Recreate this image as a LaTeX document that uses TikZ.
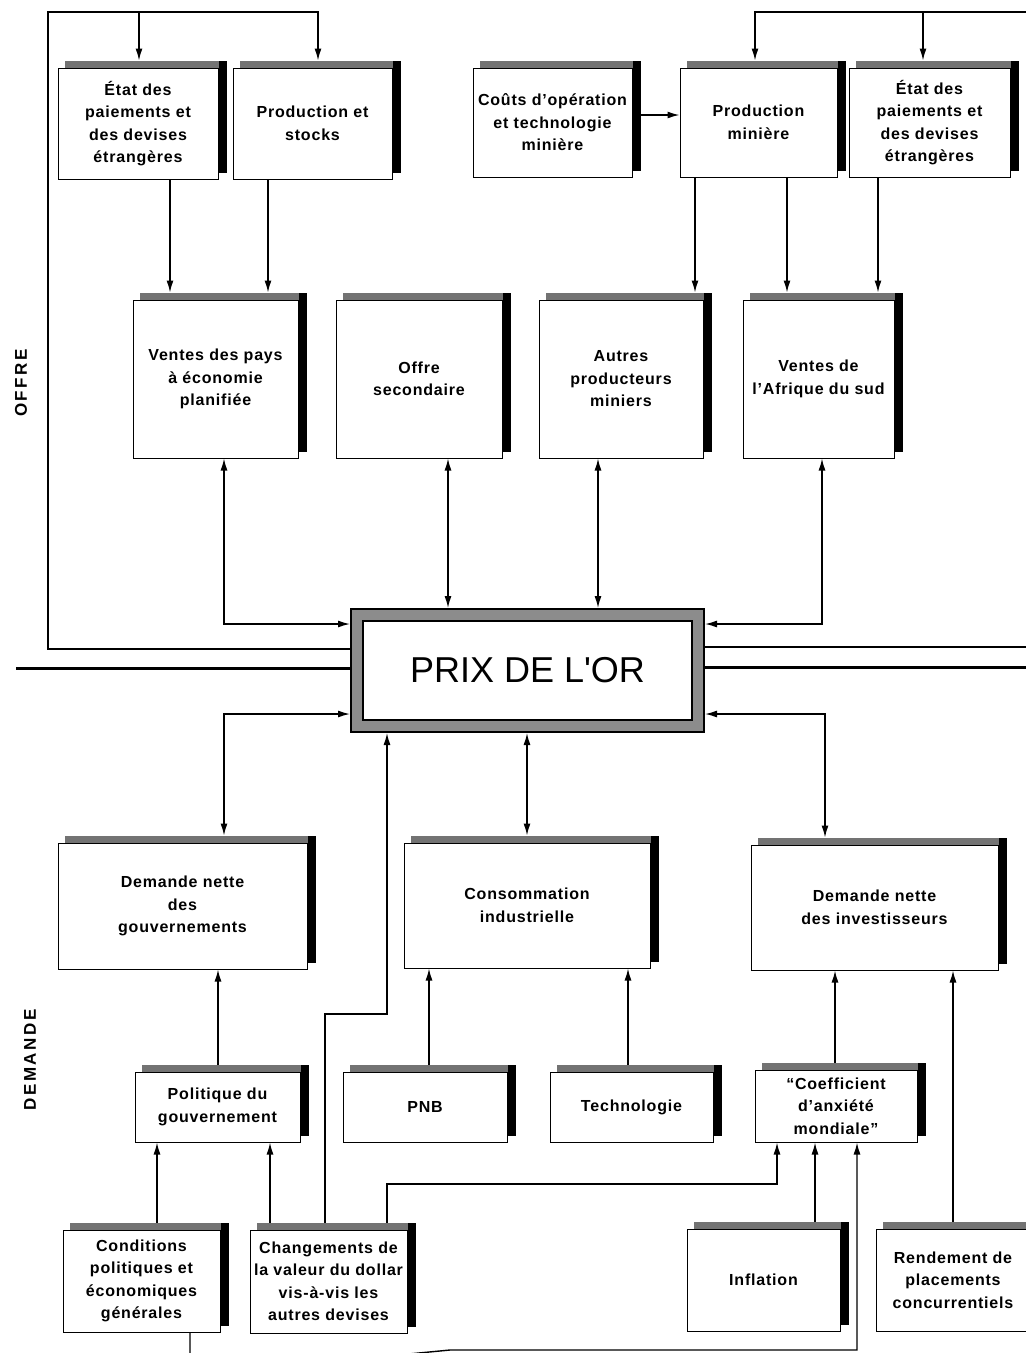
\documentclass[tikz,border=0pt]{standalone}
\usepackage{fontspec}
\setmainfont{Liberation Sans}[LetterSpace=5]
\newfontfamily\prixfont{Liberation Sans}
\newfontfamily\zonefont{Liberation Sans}[LetterSpace=15]
\usetikzlibrary{arrows.meta}
\newcommand\boitefont{\fontsize{16}{22.5}\selectfont\bfseries}

\begin{document}
\begin{tikzpicture}[x=1pt, y=-1pt, line width=1.4pt,
    >={Latex[length=12pt,width=7pt]},
    boite/.style={draw, fill=white, line width=1pt, align=center, inner sep=0pt, font=\boitefont},
    zone/.style={rotate=90, font=\zonefont\fontsize{17}{20}\selectfont\bfseries},
    ombre/.style={fill=black!55}]
\useasboundingbox (0,0) rectangle (1026,1353);
\clip (0,0) rectangle (1026,1353);

\path
    (21,383) node[zone](offre){OFFRE}
    (30,1060) node[zone](demande){DEMANDE}
    (138,123.5) node[boite, minimum width=160pt, minimum height=111pt](o1){État des\\paiements et\\des devises\\étrangères}
    (312.5,123.5) node[boite, minimum width=159pt, minimum height=111pt](o2){Production et\\stocks}
    (552.5,122.5) node[boite, minimum width=159pt, minimum height=109pt](o3){Coûts d'opération\\et technologie\\minière}
    (758.5,122.5) node[boite, minimum width=157pt, minimum height=109pt](o4){Production\\minière}
    (929.5,122.5) node[boite, minimum width=161pt, minimum height=109pt](o5){État des\\paiements et\\des devises\\étrangères}
    (215.5,379) node[boite, minimum width=165pt, minimum height=158pt](o6){Ventes des pays\\à économie\\planifiée}
    (419,379) node[boite, minimum width=166pt, minimum height=158pt](o7){Offre\\secondaire}
    (621,379) node[boite, minimum width=164pt, minimum height=158pt](o8){Autres\\producteurs\\miniers}
    (818.5,379) node[boite, minimum width=151pt, minimum height=158pt](o9){Ventes de\\l'Afrique du sud}
    (527.5,670.5) node[draw, line width=1.8pt, double=black!45, double distance=10pt, fill=white,
        minimum width=341.4pt, minimum height=111.4pt, outer sep=6.8pt,
        font=\prixfont\fontsize{36}{40}\selectfont](px){PRIX DE L'OR}
    (182.5,906) node[boite, minimum width=249pt, minimum height=126pt](d1){Demande nette\\des\\gouvernements}
    (527,905.5) node[boite, minimum width=246pt, minimum height=125pt](d2){Consommation\\industrielle}
    (874.5,907.5) node[boite, minimum width=247pt, minimum height=125pt](d3){Demande nette\\des investisseurs}
    (217.5,1107) node[boite, minimum width=165pt, minimum height=70pt](d4){Politique du\\gouvernement}
    (425,1107) node[boite, minimum width=164pt, minimum height=70pt](d5){PNB}
    (631.5,1107) node[boite, minimum width=163pt, minimum height=70pt](d6){Technologie}
    (836,1106) node[boite, minimum width=162pt, minimum height=72pt](d7){“Coefficient\\d'anxiété\\mondiale”}
    (141.5,1281) node[boite, minimum width=157pt, minimum height=102pt](d8){Conditions\\politiques et\\économiques\\générales}
    (328.5,1281.5) node[boite, minimum width=157pt, minimum height=103pt](d9){Changements de\\la valeur du dollar\\vis-à-vis les\\autres devises}
    (763.5,1280) node[boite, minimum width=153pt, minimum height=102pt](d10){Inflation}
    (953,1280) node[boite, minimum width=154pt, minimum height=102pt](d11){Rendement de\\placements\\concurrentiels};

% ombres des boites
\foreach \n in {o1,o2,o3,o4,o5,o6,o7,o8,o9,d1,d2,d3,d4,d5,d6,d7,d8,d9,d10,d11}{
    \fill[ombre] ([xshift=7pt]\n.north west) rectangle ([shift={(8pt,7pt)}]\n.north east);
    \fill ([yshift=7pt]\n.north east) rectangle ([shift={(8pt,7pt)}]\n.south east);
}

\coordinate (hg) at (139,12);
\coordinate (hd) at (923,12);

\draw[->, shorten >=7pt] (px.west |- 0,649) -| (48,12) -| (o2.north -| 318,0);
\draw[->, shorten >=7pt] (hg) -- (o1.north -| hg);
\draw[->, shorten >=7pt] (px.east |- 0,647) -- (1040,647) |- (755,12) -- (o4.north -| 755,0);
\draw[->, shorten >=7pt] (hd) -- (o5.north -| hd);

\draw[->, shorten >=7pt] (o1.south -| 170,0) -- (o6.north -| 170,0);
\draw[->, shorten >=7pt] (o2.south -| 268,0) -- (o6.north -| 268,0);
\draw[->, shorten >=7pt] (o4.south -| 695,0) -- (o8.north -| 695,0);
\draw[->, shorten >=7pt] (o4.south -| 787,0) -- (o9.north -| 787,0);
\draw[->, shorten >=7pt] (o5.south -| 878,0) -- (o9.north -| 878,0);
\draw[->, shorten <=8pt] (o3.east |- 0,115) -- (o4.west |- 0,115);

\draw[<->] (o6.south -| 224,0) |- (px.west |- 0,624);
\draw[<->] (o7.south -| 448,0) -- (px.north -| 448,0);
\draw[<->] (o8.south -| 598,0) -- (px.north -| 598,0);
\draw[<->] (o9.south -| 822,0) |- (px.east |- 0,624);

\draw[line width=3pt] (16,668) -- (px.west |- 0,668);
\draw[line width=3pt] (px.east |- 0,667) -- (1030,667);

\draw[<->, shorten >=7pt] (px.west |- 0,714) -| (d1.north -| 224,0);
\draw[<->, shorten >=7pt] (px.south -| 527,0) -- (d2.north -| 527,0);
\draw[<->, shorten >=7pt] (px.east |- 0,714) -| (d3.north -| 825,0);

\draw[->, shorten <=7pt] (d4.north -| 218,0) -- (d1.south -| 218,0);
\draw[->, shorten <=7pt] (d5.north -| 429,0) -- (d2.south -| 429,0);
\draw[->, shorten <=7pt] (d6.north -| 628,0) -- (d2.south -| 628,0);
\draw[->, shorten <=7pt] (d7.north -| 835,0) -- (d3.south -| 835,0);
\draw[->, shorten <=7pt] (d11.north -| 953,0) -- (d3.south -| 953,0);

\draw[->, shorten <=7pt] (d8.north -| 157,0) -- (d4.south -| 157,0);
\draw[->, shorten <=7pt] (d9.north -| 270,0) -- (d4.south -| 270,0);
\draw[->, shorten <=7pt] (d9.north -| 325,0) |- (387,1014) -- (px.south -| 387,0);
\draw[->, shorten <=7pt] (d9.north -| 387,0) |- (777,1184) -- (d7.south -| 777,0);
\draw[->, shorten <=7pt] (d10.north -| 815,0) -- (d7.south -| 815,0);
\draw[->] (d8.south -| 190,0) -- (190,1375) -- (450,1350) -| (d7.south -| 857,0);

\end{tikzpicture}
\end{document}
